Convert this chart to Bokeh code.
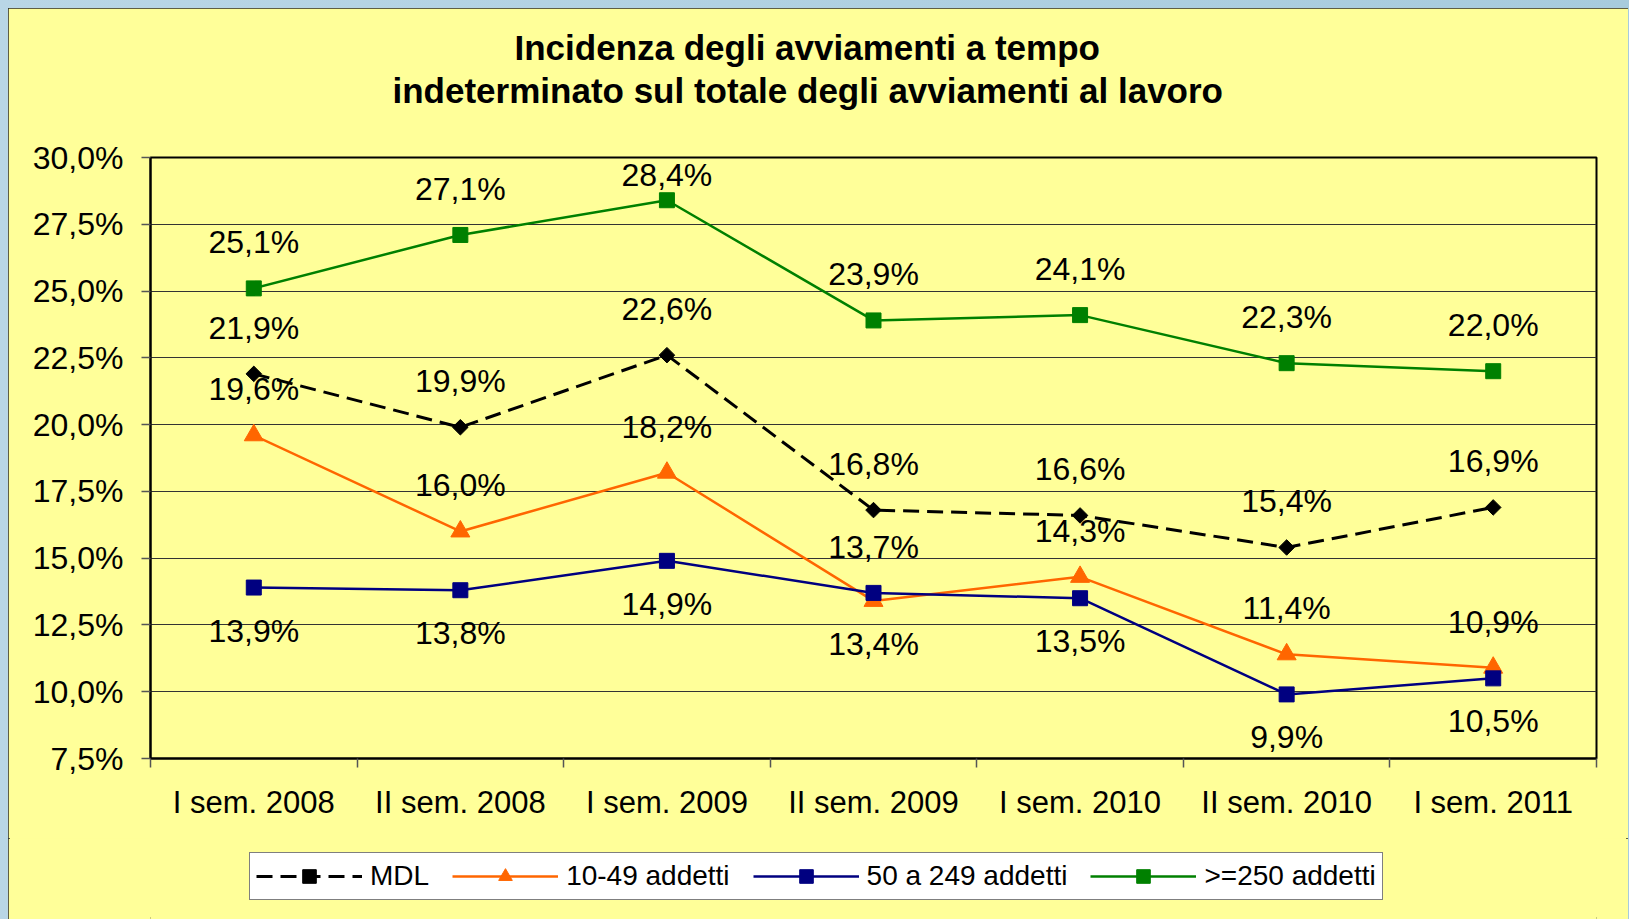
import math
from bokeh.plotting import figure
from bokeh.layouts import column
from bokeh.models import FixedTicker, Range1d, Legend, LegendItem, Title, ColumnDataSource, LinearAxis
from bokeh.embed import file_html
from bokeh.resources import INLINE
from bokeh.core.properties import value

# ---------------- data ----------------
categories = ["I sem. 2008", "II sem. 2008", "I sem. 2009", "II sem. 2009",
              "I sem. 2010", "II sem. 2010", "I sem. 2011"]
mdl = [21.9, 19.9, 22.6, 16.8, 16.6, 15.4, 16.9]
add_10_49 = [19.6, 16.0, 18.2, 13.4, 14.3, 11.4, 10.9]
add_50_249 = [13.9, 13.8, 14.9, 13.7, 13.5, 9.9, 10.5]
add_250 = [25.1, 27.1, 28.4, 23.9, 24.1, 22.3, 22.0]
y_ticks = [7.5, 10.0, 12.5, 15.0, 17.5, 20.0, 22.5, 25.0, 27.5, 30.0]
y_tick_labels = ["7,5%", "10,0%", "12,5%", "15,0%", "17,5%", "20,0%",
                 "22,5%", "25,0%", "27,5%", "30,0%"]
series_names = ["MDL", "10-49 addetti", "50 a 249 addetti", ">=250 addetti"]
title_lines = ["Incidenza degli avviamenti a tempo",
               "indeterminato sul totale degli avviamenti al lavoro"]
# label side per point: 1 = above, -1 = below
label_side = {
    "MDL": [1, 1, 1, 1, 1, 1, 1],
    "10-49 addetti": [1, 1, 1, -1, 1, 1, 1],
    "50 a 249 addetti": [-1, -1, -1, 1, -1, -1, -1],
    ">=250 addetti": [1, 1, 1, 1, 1, 1, 1],
}

FONT = "Liberation Sans"
BG = "#FFFF99"
Y0, Y1 = 7.5, 30.0
FRAME_W, FRAME_H = 1446, 601
TOTAL_W, TOP_H, LEG_H = 1620, 830, 81

x = [i + 0.5 for i in range(len(categories))]

styles = {
    "MDL": dict(color="black", dash="16 8", width=3, marker="square", size=11, angle=math.pi / 4),
    "10-49 addetti": dict(color="#FF6600", dash="solid", width=2.5, marker="triangle", size=19, angle=0),
    "50 a 249 addetti": dict(color="#000080", dash="solid", width=2.5, marker="square", size=15, angle=0),
    ">=250 addetti": dict(color="#008000", dash="solid", width=2.5, marker="square", size=15, angle=0),
}
data = {"MDL": mdl, "10-49 addetti": add_10_49,
        "50 a 249 addetti": add_50_249, ">=250 addetti": add_250}

# ---------------- main chart ----------------
p = figure(width=TOTAL_W, height=TOP_H, output_backend="svg", toolbar_location=None,
           x_range=Range1d(0, len(categories)), y_range=Range1d(Y0, Y1),
           frame_width=FRAME_W, frame_height=FRAME_H,
           min_border_left=142, min_border_right=32, min_border_top=149,
           min_border_bottom=TOP_H - 149 - FRAME_H,
           background_fill_color=BG, border_fill_color=BG)
p.outline_line_color = "black"
p.outline_line_width = 2

xa = p.xaxis[0]
xa.ticker = FixedTicker(ticks=x, minor_ticks=list(range(len(categories) + 1)))
xa.major_label_overrides = {xx: c for xx, c in zip(x, categories)}
xa.major_tick_out = 0
xa.major_tick_in = 0
xa.minor_tick_out = 9
xa.minor_tick_in = 0
xa.minor_tick_line_color = "#555555"
xa.minor_tick_line_width = 1.5
xa.axis_line_width = 2
xa.major_label_standoff = 17
xa.major_label_text_font = FONT
xa.major_label_text_font_size = "31px"
xa.major_label_text_color = "black"

ya = p.yaxis[0]
ya.ticker = FixedTicker(ticks=y_ticks)
ya.major_label_overrides = {t: l for t, l in zip(y_ticks, y_tick_labels)}
ya.minor_tick_line_color = None
ya.major_tick_out = 9
ya.major_tick_in = 0
ya.major_tick_line_color = "#555555"
ya.major_tick_line_width = 1.5
ya.axis_line_width = 2
ya.major_label_standoff = 18
ya.major_label_text_font = FONT
ya.major_label_text_font_size = "32px"
ya.major_label_text_color = "black"

p.xgrid.grid_line_color = None
p.ygrid.ticker = FixedTicker(ticks=y_ticks)
p.ygrid.grid_line_color = "#333333"
p.ygrid.grid_line_width = 1

# invisible spacer between frame and title, then the two title lines
spacer = LinearAxis(ticker=FixedTicker(ticks=[x[0]]), axis_line_color=None, axis_label=None,
                    major_tick_out=48, major_tick_in=0, major_tick_line_color=None,
                    minor_tick_out=0, minor_tick_in=0, minor_tick_line_color=None,
                    major_label_standoff=0, major_label_text_font_size="1px",
                    major_label_text_alpha=0, major_label_overrides={x[0]: ""})
p.add_layout(spacer, "above")
t2 = Title(text=title_lines[1], align="left", text_font=FONT, text_font_size="35px",
           text_font_style="bold", text_color="black", offset=242, standoff=0)
t1 = Title(text=title_lines[0], align="left", text_font=FONT, text_font_size="35px",
           text_font_style="bold", text_color="black", offset=364, standoff=4)
p.add_layout(t2, "above")
p.add_layout(t1, "above")

for name in series_names:
    st = styles[name]
    vals = data[name]
    p.line(x, vals, line_color=st["color"], line_width=st["width"], line_dash=st["dash"])
    p.scatter(x, vals, marker=st["marker"], size=st["size"], angle=st["angle"],
              fill_color=st["color"], line_color=st["color"])

# data labels (kept inside the frame so that they are not clipped)
px_per_unit = FRAME_H / (Y1 - Y0)
for name in series_names:
    vals = data[name]
    sides = label_side[name]
    xs, ys, txt, offs = [], [], [], []
    for xx, v, s in zip(x, vals, sides):
        from_top = (Y1 - v) * px_per_unit
        if s == 1:
            off = max(-46, 17 - from_top)
        else:
            off = min(43, (FRAME_H - 17) - from_top)
        xs.append(xx); ys.append(v); offs.append(off)
        txt.append(f"{v:.1f}%".replace(".", ","))
    src = ColumnDataSource(dict(x=xs, y=ys, t=txt, off=offs))
    p.text("x", "y", text="t", source=src, text_align="center", text_baseline="middle",
           y_offset="off", text_font=value(FONT),
           text_font_size="32px", text_color="black")

# ---------------- legend strip ----------------
pl = figure(width=TOTAL_W, height=LEG_H, output_backend="svg", toolbar_location=None,
            x_range=Range1d(0, 1), y_range=Range1d(0, 1), x_axis_type=None, y_axis_type=None,
            min_border=0, min_border_left=0, min_border_right=0, min_border_top=0,
            min_border_bottom=0, background_fill_color=BG, border_fill_color=BG)
pl.outline_line_color = None
pl.xgrid.visible = False
pl.ygrid.visible = False

items = []
for name in series_names:
    st = styles[name]
    vals = data[name]
    # same series drawn in the strip (outside its visible range) only to feed the legend
    ln = pl.line(x, vals, line_color=st["color"], line_width=st["width"], line_dash=st["dash"])
    sc = pl.scatter(x, vals, marker=st["marker"], size=st["size"], angle=st["angle"],
                    fill_color=st["color"], line_color=st["color"])
    items.append(LegendItem(label=name, renderers=[ln, sc]))

legend = Legend(items=items, orientation="horizontal", location=(99, 19),
                label_text_font=FONT, label_text_font_size="28px", label_text_color="black",
                glyph_width=106, glyph_height=34, label_height=34, label_standoff=8, spacing=23,
                padding=6, margin=0, border_line_color="black", border_line_width=1.5,
                background_fill_color="white", background_fill_alpha=1.0)
pl.add_layout(legend)

lay = column(p, pl, spacing=0)
lay.styles = {"background-color": BG, "outline": "2px solid #2a2a2a", "outline-offset": "-2px"}

html = file_html(lay, INLINE)
css = ("<style>html, body { background: linear-gradient(90deg, #b9d6e6, #a7cbdd) !important; "
       "overflow: hidden !important; } body { padding: 8px 0 0 8px !important; }</style>")
html = html.replace("</head>", css + "</head>", 1)
open("out.html", "w").write(html)
